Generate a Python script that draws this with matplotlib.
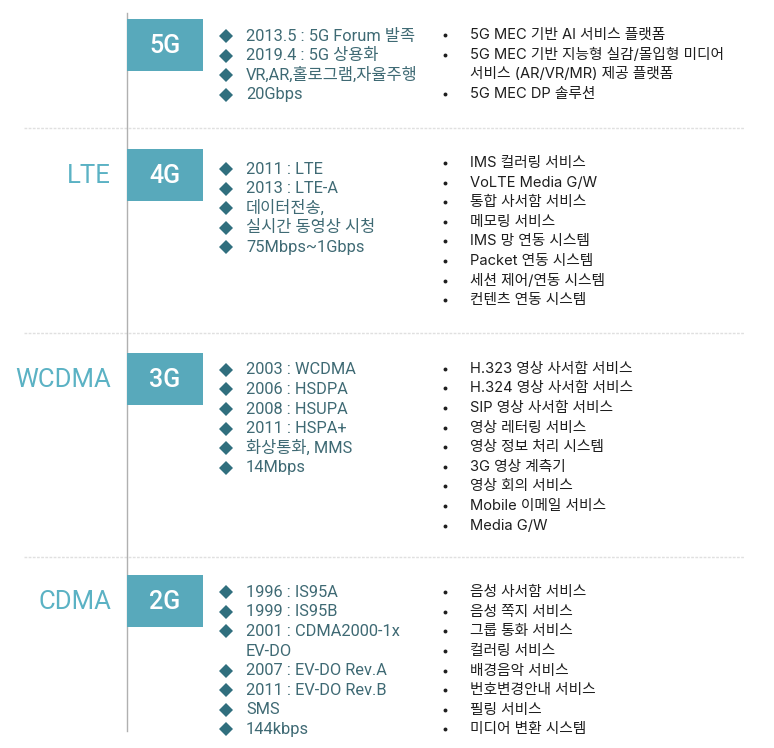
import matplotlib

matplotlib.use("Agg")
import matplotlib.pyplot as plt
from matplotlib.patches import Rectangle

# -- content -------------------------------------------------------------------

generations = ["5G", "4G", "3G", "2G"]
tech_names = ["", "LTE", "WCDMA", "CDMA"]

# "\n" marks a wrapped item: the second line gets no bullet
features = [
    ["2013.5 : 5G Forum 발족", "2019.4 : 5G 상용화", "VR,AR,홀로그램,자율주행", "20Gbps"],
    ["2011 : LTE", "2013 : LTE-A", "데이터전송,", "실시간 동영상 시청", "75Mbps~1Gbps"],
    ["2003 : WCDMA", "2006 : HSDPA", "2008 : HSUPA", "2011 : HSPA+",
     "화상통화, MMS", "14Mbps"],
    ["1996 : IS95A", "1999 : IS95B", "2001 : CDMA2000-1x\nEV-DO",
     "2007 : EV-DO Rev.A", "2011 : EV-DO Rev.B", "SMS", "144kbps"],
]

services = [
    ["5G MEC 기반 AI 서비스 플랫폼",
     "5G MEC 기반 지능형 실감/몰입형 미디어\n서비스 (AR/VR/MR) 제공 플랫폼",
     "5G MEC DP 솔루션"],
    ["IMS 컬러링 서비스", "VoLTE Media G/W", "통합 사서함 서비스", "메모링 서비스",
     "IMS 망 연동 시스템", "Packet 연동 시스템", "세션 제어/연동 시스템",
     "컨텐츠 연동 시스템"],
    ["H.323 영상 사서함 서비스", "H.324 영상 사서함 서비스", "SIP 영상 사서함 서비스",
     "영상 레터링 서비스", "영상 정보 처리 시스템", "3G 영상 계측기", "영상 회의 서비스",
     "Mobile 이메일 서비스", "Media G/W"],
    ["음성 사서함 서비스", "음성 쪽지 서비스", "그룹 통화 서비스", "컬러링 서비스",
     "배경음악 서비스", "번호변경안내 서비스", "필링 서비스", "미디어 변환 시스템"],
]

# -- style ---------------------------------------------------------------------

BOX = "#58a9bb"
TECH = "#5bb2c4"
DIAMOND = "#306f7e"
FEAT = "#3f6a74"
SERV = "#1e1e1e"
LINE = "#b0b0b0"
SEP = "#e0e0e0"

LATIN_KR = ["Roboto", "Noto Sans CJK KR", "DejaVu Sans"]
SERV_FONT = ["Inter", "Noto Sans CJK KR", "DejaVu Sans"]

W, H = 774, 748
ROW = 19.6          # line pitch in px
PAD = 48            # extra height of one section
X_AXIS = 127
BOX_W, BOX_H = 76, 52

fig = plt.figure(figsize=(W / 100, H / 100), dpi=100)
ax = fig.add_axes([0, 0, 1, 1])
ax.set_xlim(0, W)
ax.set_ylim(H, 0)
ax.set_axis_off()


def lines_of(items):
    out = []
    for it in items:
        parts = it.split("\n")
        out.append((parts[0], True))
        out.extend((p, False) for p in parts[1:])
    return out


top = 0.0
box_gap = [19, 21, 20, 18]
feat_gap = [36, 41, 37, 35]
serv_gap = [35, 35, 36, 35]
for i, gen in enumerate(generations):
    feat_lines = lines_of(features[i])
    serv_lines = lines_of(services[i])
    n = max(len(feat_lines), len(serv_lines))

    # generation box + technology name
    by = top + box_gap[i]
    ax.add_patch(Rectangle((X_AXIS, by), BOX_W, BOX_H, color=BOX, lw=0, zorder=2))
    ax.text(X_AXIS + BOX_W / 2, by + BOX_H / 2 + 1, gen, color="white",
            fontsize=18, fontweight="medium", family=LATIN_KR,
            ha="center", va="center", zorder=3)
    if tech_names[i]:
        ax.text(111, by + BOX_H / 2 + 1, tech_names[i], color=TECH, fontsize=18.5,
                family=LATIN_KR, ha="right", va="center")

    # features with diamond bullets
    for k, (txt, bullet) in enumerate(feat_lines):
        y = top + feat_gap[i] + k * ROW
        if bullet:
            ax.plot(226, y, marker="D", ms=6.8, color=DIAMOND, mew=0)
        ax.text(246, y, txt, color=FEAT, fontsize=11.8, family=LATIN_KR,
                va="center", ha="left")

    # services with dot bullets
    for k, (txt, bullet) in enumerate(serv_lines):
        y = top + serv_gap[i] + k * ROW
        if bullet:
            ax.plot(445, y, marker="o", ms=2.8, color=SERV, mew=0)
        ax.text(470, y, txt, color=SERV, fontsize=10.6, family=SERV_FONT,
                va="center", ha="left")

    top = top + n * ROW + PAD + (1.6 if i == 0 else 0)
    if i < len(generations) - 1:
        ax.plot([24, 744], [top, top], color=SEP, lw=1, ls=(0, (2, 1)), zorder=1)

ax.plot([X_AXIS, X_AXIS], [13, 731], color=LINE, lw=1, zorder=1)

fig.savefig("out.png", dpi=100)
